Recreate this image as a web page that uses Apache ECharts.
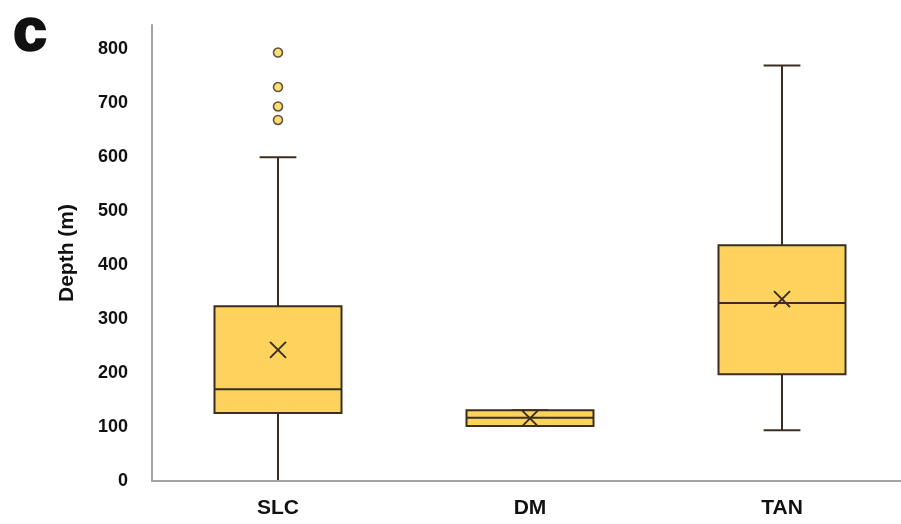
<!DOCTYPE html>
<html>
<head>
<meta charset="utf-8">
<script src="https://cdn.jsdelivr.net/npm/echarts@6/dist/echarts.min.js"></script>
<style>
  html, body { margin: 0; padding: 0; background: #ffffff; }
  #chart { width: 901px; height: 524px; }
</style>
</head>
<body>
<div id="chart"></div>
<script>
// Depth distribution per site (m)
const categories = ['SLC', 'DM', 'TAN'];
const whiskerLow = [0, 102, 94];
const q1 = [126, 102, 198];
const median = [170, 117, 330];
const q3 = [324, 131, 437];
const whiskerHigh = [600, 131, 770];
const means = [243, 116, 337];
// Outlying depths (category index, value)
const outlierCategory = [0, 0, 0, 0];
const outlierValue = [794, 730, 694, 669];
const yTicks = [0, 100, 200, 300, 400, 500, 600, 700, 800];

const FILL = '#FDD35E';
const EDGE = '#3a2e20';
const FONT = '"Liberation Sans", Arial, sans-serif';

const boxData = categories.map((c, i) =>
  [i, whiskerLow[i], q1[i], median[i], q3[i], whiskerHigh[i], means[i]]);
const outlierData = outlierValue.map((v, i) => [outlierCategory[i], v]);

function renderBox(params, api) {
  const idx = api.value(0);
  const band = api.size([1, 0])[0];
  const half = band * 0.252;
  const capHalf = band * 0.073;
  const pLow = api.coord([idx, api.value(1)]);
  const pQ1 = api.coord([idx, api.value(2)]);
  const pMed = api.coord([idx, api.value(3)]);
  const pQ3 = api.coord([idx, api.value(4)]);
  const pHigh = api.coord([idx, api.value(5)]);
  const pMean = api.coord([idx, api.value(6)]);
  const cx = pMed[0];
  const line = { stroke: EDGE, lineWidth: 2 };
  const xs = 8;
  return {
    type: 'group',
    children: [
      { type: 'line', shape: { x1: cx, y1: pQ3[1], x2: cx, y2: pHigh[1] }, style: line },
      { type: 'line', shape: { x1: cx, y1: pQ1[1], x2: cx, y2: pLow[1] }, style: line },
      { type: 'line', shape: { x1: cx - capHalf, y1: pHigh[1], x2: cx + capHalf, y2: pHigh[1] }, style: line },
      { type: 'line', shape: { x1: cx - capHalf, y1: pLow[1], x2: cx + capHalf, y2: pLow[1] }, style: line },
      { type: 'rect', shape: { x: cx - half, y: pQ3[1], width: half * 2, height: pQ1[1] - pQ3[1] },
        style: { fill: FILL, stroke: EDGE, lineWidth: 2 } },
      { type: 'line', shape: { x1: cx - half, y1: pMed[1], x2: cx + half, y2: pMed[1] }, style: line },
      { type: 'line', shape: { x1: cx - xs, y1: pMean[1] - xs, x2: cx + xs, y2: pMean[1] + xs }, style: line },
      { type: 'line', shape: { x1: cx - xs, y1: pMean[1] + xs, x2: cx + xs, y2: pMean[1] - xs }, style: line }
    ]
  };
}

const chart = echarts.init(document.getElementById('chart'));
chart.setOption({
  animation: false,
  backgroundColor: '#ffffff',
  grid: { left: 152, width: 756, top: 25, bottom: 43, containLabel: false, outerBoundsMode: 'none' },
  graphic: [{
    type: 'text', left: 12, top: 2,
    style: { text: 'c', font: '900 60px ' + FONT, fill: '#111111', stroke: '#111111', lineWidth: 2.5 }
  }],
  xAxis: {
    type: 'category',
    data: categories,
    z: 10,
    axisLine: { lineStyle: { color: '#a3a3a3', width: 2 } },
    axisTick: { show: false },
    axisLabel: { margin: 17, color: '#111111', fontSize: 21, fontWeight: 'bold', fontFamily: FONT },
    splitLine: { show: false }
  },
  yAxis: {
    type: 'value',
    min: 0, max: 845, interval: 100,
    name: 'Depth (m)',
    nameLocation: 'middle',
    nameGap: 74,
    nameTextStyle: { color: '#111111', fontSize: 21, fontWeight: 'bold', fontFamily: FONT },
    axisLine: { show: true, lineStyle: { color: '#a3a3a3', width: 2 } },
    axisTick: { show: false },
    splitLine: { show: false },
    axisLabel: {
      margin: 24, color: '#111111', fontSize: 18, fontWeight: 'bold', fontFamily: FONT,
      showMaxLabel: false,
      formatter: v => (yTicks.indexOf(v) >= 0 ? String(v) : '')
    }
  },
  series: [
    {
      type: 'custom',
      renderItem: renderBox,
      encode: { x: 0, y: [1, 2, 3, 4, 5, 6] },
      data: boxData,
      z: 2
    },
    {
      type: 'scatter',
      data: outlierData,
      symbol: 'circle',
      symbolSize: 9,
      itemStyle: { color: '#F9D651', borderColor: EDGE, borderWidth: 1.6 },
      z: 3
    }
  ]
});
</script>
</body>
</html>
